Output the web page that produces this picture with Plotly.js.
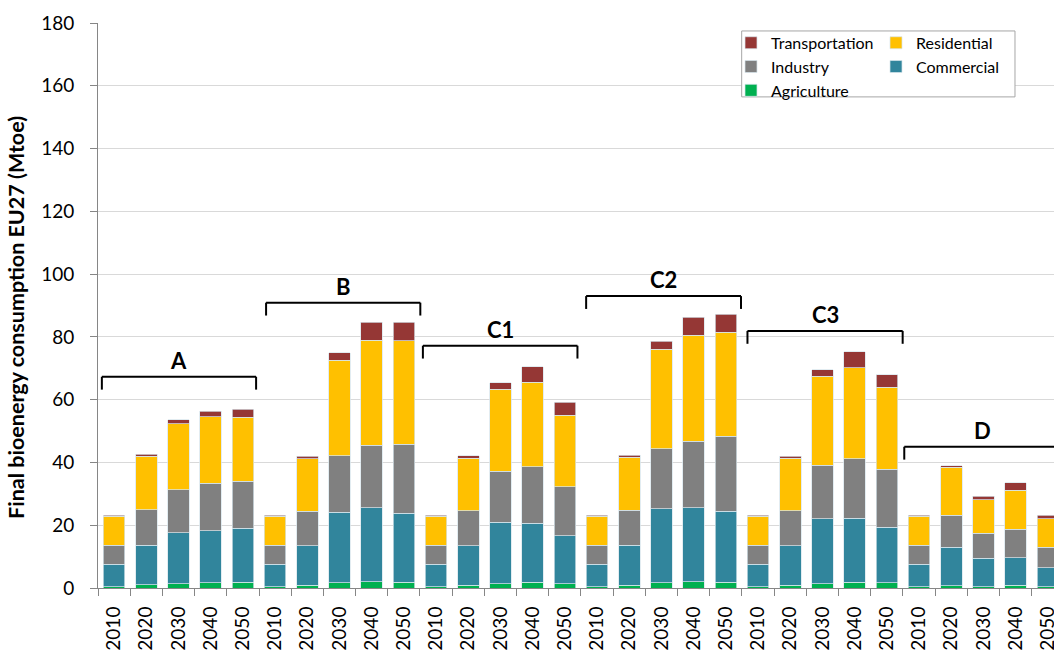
<!DOCTYPE html>
<html>
<head>
<meta charset="utf-8">
<script src="https://cdn.plot.ly/plotly-3.0.1.min.js"></script>
<style>
html,body{margin:0;padding:0;background:#fff;overflow:hidden;}
#chart{width:1054px;height:653px;}
</style>
</head>
<body>
<div id="chart"></div>
<script>
// ---- data ----
const scenarios = ['A', 'B', 'C1', 'C2', 'C3', 'D'];
const years = ['2010', '2020', '2030', '2040', '2050'];

const agriculture = [
  0.4, 1.1, 1.4, 1.7, 1.9,
  0.4, 0.8, 1.6, 2.0, 1.8,
  0.4, 0.8, 1.3, 1.8, 1.4,
  0.4, 0.8, 1.6, 2.0, 1.9,
  0.4, 0.8, 1.4, 1.9, 1.6,
  0.4, 0.7, 0.4, 0.8, 0.4
];
const commercial = [
  7.2, 12.6, 16.2, 16.5, 17.1,
  7.2, 12.6, 22.6, 23.5, 22.0,
  7.2, 12.6, 19.7, 18.9, 15.2,
  7.2, 12.8, 23.6, 23.6, 22.5,
  7.2, 12.6, 20.6, 20.3, 17.8,
  7.2, 12.3, 9.0, 8.8, 6.0
];
const industry = [
  6.1, 11.2, 13.7, 15.1, 15.0,
  6.1, 11.0, 17.9, 19.9, 22.0,
  6.1, 11.2, 16.2, 17.9, 15.7,
  6.1, 11.1, 19.2, 21.2, 23.9,
  6.1, 11.2, 17.1, 19.0, 18.4,
  6.1, 10.1, 8.0, 9.1, 6.6
];
const residential = [
  9.1, 17.0, 21.1, 21.2, 20.4,
  9.1, 16.8, 30.5, 33.6, 32.9,
  9.1, 16.7, 26.1, 26.9, 22.8,
  9.1, 16.9, 31.6, 33.8, 33.2,
  9.1, 16.8, 28.3, 28.9, 26.1,
  9.1, 15.4, 10.7, 12.5, 9.1
];
const transportation = [
  0.3, 0.7, 1.2, 1.8, 2.5,
  0.3, 0.7, 2.3, 5.6, 5.9,
  0.3, 0.8, 2.1, 5.0, 4.1,
  0.3, 0.7, 2.6, 5.7, 5.7,
  0.3, 0.6, 2.2, 5.2, 4.1,
  0.3, 0.5, 1.1, 2.3, 1.1
];

// ---- layout config (bracket geometry, in axis units) ----
const bracketStart = [-0.38, 4.72, 9.59, 14.66, 19.67, 24.54];
const bracketEnd   = [4.41, 9.51, 14.39, 19.47, 24.49, 29.4];
const bracketTop   = [67.3, 90.9, 77.2, 93.0, 81.9, 45.0];
const bracketDrop  = 4.1;
const labelLift    = 5.3;

// ---- build ----
const cats = [];
const tickText = [];
scenarios.forEach(s => years.forEach(y => { cats.push(s + ' ' + y); tickText.push(y); }));

const font = 'Lato, "Open Sans", sans-serif';
const edge = {color: 'rgba(215,228,235,0.9)', width: 0.8};

function bar(name, vals, color, legend, rank) {
  return {
    type: 'bar', name: name, x: cats, y: vals,
    marker: {color: color, line: edge},
    legend: legend, legendrank: rank,
    hoverinfo: 'name+y'
  };
}

const traces = [
  bar('Agriculture', agriculture, '#00B050', 'legend', 3),
  bar('Commercial', commercial, '#31859C', 'legend2', 2),
  bar('Industry', industry, '#808080', 'legend', 2),
  bar('Residential', residential, '#FFC000', 'legend2', 1),
  bar('Transportation', transportation, '#953735', 'legend', 1)
];

const shapes = [];
const annotations = [];
scenarios.forEach((s, i) => {
  const x0 = bracketStart[i], x1 = bracketEnd[i], yt = bracketTop[i], yb = yt - bracketDrop;
  const ln = {color: '#000', width: 2};
  shapes.push({type: 'line', xref: 'x', yref: 'y', x0: x0, x1: x1, y0: yt, y1: yt, line: ln});
  shapes.push({type: 'line', xref: 'x', yref: 'y', x0: x0, x1: x0, y0: yt, y1: yb, line: ln});
  shapes.push({type: 'line', xref: 'x', yref: 'y', x0: x1, x1: x1, y0: yt, y1: yb, line: ln});
  annotations.push({
    xref: 'x', yref: 'y', x: (x0 + x1) / 2, y: yt + labelLift,
    text: '<b>' + s + '</b>', showarrow: false,
    font: {family: font, size: 22, color: '#000'},
    xanchor: 'center', yanchor: 'middle'
  });
});

// legend box
shapes.push({
  type: 'rect', xref: 'paper', yref: 'paper',
  x0: 0.6733, x1: 0.9592, y0: 0.8692, y1: 0.9859,
  line: {color: '#A6A6A6', width: 1}, fillcolor: '#ffffff', layer: 'above'
});

// y axis title
annotations.push({
  xref: 'paper', yref: 'paper', x: 0, y: 0.478, xshift: -82,
  text: '<b>Final bioenergy consumption EU27 (Mtoe)</b>',
  textangle: -90, showarrow: false,
  font: {family: font, size: 21.5, color: '#000'},
  xanchor: 'center', yanchor: 'middle'
});

const legendCommon = {
  orientation: 'v', traceorder: 'normal',
  bgcolor: 'rgba(0,0,0,0)', borderwidth: 0,
  font: {family: font, size: 16, color: '#000'},
  xanchor: 'left', yanchor: 'top', itemclick: false, itemdoubleclick: false
};

const layout = {
  width: 1054, height: 653,
  margin: {l: 98, r: 0, t: 23, b: 65},
  paper_bgcolor: '#ffffff', plot_bgcolor: '#ffffff',
  barmode: 'stack', bargap: 0.33,
  font: {family: font, color: '#000'},
  showlegend: true,
  legend: Object.assign({}, legendCommon, {x: (731 - 98) / 956, y: 0.995}),
  legend2: Object.assign({}, legendCommon, {x: (876 - 98) / 956, y: 0.995}),
  xaxis: {
    type: 'category', range: [-0.5, 29.19],
    tickmode: 'array', tickvals: cats, ticktext: tickText,
    tickangle: -90, tickson: 'boundaries',
    ticks: 'outside', ticklen: 7, tickcolor: '#868686',
    showline: true, linecolor: '#868686', linewidth: 1,
    showgrid: false, tickfont: {family: font, size: 19, color: '#000'},
    ticklabelstandoff: 10, fixedrange: true
  },
  yaxis: {
    range: [0, 180], dtick: 20, tick0: 0,
    ticks: 'outside', ticklen: 7, tickcolor: '#868686',
    showline: true, linecolor: '#868686', linewidth: 1,
    gridcolor: '#D9D9D9', gridwidth: 1, zeroline: false,
    tickfont: {family: font, size: 19, color: '#000'},
    ticklabelstandoff: 12, fixedrange: true
  },
  shapes: shapes,
  annotations: annotations
};

Plotly.newPlot('chart', traces, layout, {displayModeBar: false, staticPlot: false});
</script>
</body>
</html>
